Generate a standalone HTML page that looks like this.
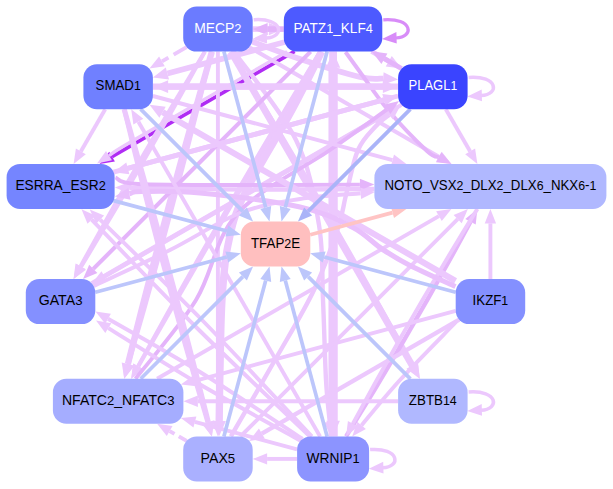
<!DOCTYPE html><html><head><meta charset="utf-8"><style>html,body{margin:0;padding:0;background:#fff}svg{display:block;font-family:"Liberation Sans",sans-serif}</style></head><body><svg width="613" height="489" viewBox="0 0 613 489">
<rect width="613" height="489" fill="#fff"/>
<line x1="294.6" y1="51.3" x2="112.0" y2="156.7" stroke="#b02cf4" stroke-width="3.7"/>
<polygon points="99.6,163.9 109.2,151.8 114.9,161.6" fill="#b02cf4"/>
<line x1="252.7" y1="29.1" x2="268.9" y2="29.1" stroke="#ecc8fd" stroke-width="5.6"/>
<polygon points="283.8,29.1 268.9,35.3 268.9,22.9" fill="#ecc8fd"/>
<line x1="283.8" y1="29.1" x2="267.6" y2="29.1" stroke="#e4b4fa" stroke-width="5.6"/>
<polygon points="252.7,29.1 267.6,22.9 267.6,35.3" fill="#e4b4fa"/>
<line x1="186.6" y1="47.1" x2="162.0" y2="61.4" stroke="#ecc8fd" stroke-width="3.9" stroke-dasharray="15,6"/>
<polygon points="149.4,68.6 159.1,56.4 164.8,66.3" fill="#ecc8fd"/>
<path d="M252.2,41.6 C260.2,44.5 282.0,53.1 300.0,59.0 C318.0,64.9 346.1,73.7 360.0,77.0 C373.9,80.3 379.3,78.3 383.2,78.5" fill="none" stroke="#ecc8fd" stroke-width="5.6"/>
<polygon points="398.1,79.5 382.7,84.7 383.6,72.3" fill="#ecc8fd"/>
<line x1="249.2" y1="47.1" x2="438.9" y2="156.7" stroke="#ecc8fd" stroke-width="3.9"/>
<polygon points="451.4,163.9 436.1,161.6 441.8,151.7" fill="#ecc8fd"/>
<line x1="230.9" y1="51.6" x2="412.2" y2="365.5" stroke="#ecc8fd" stroke-width="6.8"/>
<polygon points="419.8,378.8 406.5,368.8 417.8,362.3" fill="#ecc8fd"/>
<path d="M230.9,51.6 Q329.7,212.7 412.9,366.1" fill="none" stroke="#ecc8fd" stroke-width="3.9"/>
<polygon points="419.8,378.8 407.9,368.8 418.0,363.4" fill="#ecc8fd"/>
<path d="M233.8,51.6 C244.1,66.3 281.8,111.1 296.0,140.0 C310.2,168.9 314.5,198.3 319.0,225.0 C323.5,251.7 321.8,274.2 323.0,300.0 C324.2,325.8 324.9,359.7 326.0,380.0 C327.1,400.3 329.1,414.9 329.8,421.9" fill="none" stroke="#ecc8fd" stroke-width="4.4"/>
<polygon points="331.1,436.4 323.9,422.4 335.6,421.3" fill="#ecc8fd"/>
<line x1="217.9" y1="51.6" x2="217.9" y2="421.9" stroke="#ecc8fd" stroke-width="3.9"/>
<polygon points="217.9,436.4 212.2,421.9 223.6,421.9" fill="#ecc8fd"/>
<path d="M211.9,51.6 Q165.1,214.4 127.9,364.1" fill="none" stroke="#ecc8fd" stroke-width="6.3"/>
<polygon points="124.2,378.8 121.7,362.5 134.1,365.6" fill="#ecc8fd"/>
<path d="M211.9,51.6 Q171.9,216.2 128.3,364.9" fill="none" stroke="#ecc8fd" stroke-width="3.9"/>
<polygon points="124.2,378.8 122.8,363.3 133.8,366.6" fill="#ecc8fd"/>
<path d="M204.9,51.6 Q136.6,163.8 80.5,266.4" fill="none" stroke="#ecc8fd" stroke-width="3.9"/>
<polygon points="73.6,279.1 75.5,263.6 85.5,269.1" fill="#ecc8fd"/>
<path d="M204.9,51.6 Q141.8,166.8 81.1,266.7" fill="none" stroke="#ecc8fd" stroke-width="3.9"/>
<polygon points="73.6,279.1 76.2,263.8 86.0,269.7" fill="#ecc8fd"/>
<line x1="284.5" y1="42.1" x2="167.4" y2="73.5" stroke="#ecc8fd" stroke-width="5.6"/>
<polygon points="152.9,77.4 165.8,67.5 169.0,79.5" fill="#ecc8fd"/>
<path d="M287.1,51.6 C270.9,61.0 217.0,92.1 190.0,107.7 C163.0,123.3 138.5,137.2 125.0,145.2 C111.5,153.2 111.7,153.9 109.0,155.6" fill="none" stroke="#ecc8fd" stroke-width="3.3"/>
<polygon points="97.0,163.4 106.0,151.0 112.0,160.3" fill="#ecc8fd"/>
<line x1="310.6" y1="51.6" x2="93.3" y2="268.9" stroke="#e4b4fa" stroke-width="4.1"/>
<polygon points="83.0,279.1 89.2,264.8 97.4,273.0" fill="#e4b4fa"/>
<line x1="320.1" y1="51.6" x2="138.4" y2="366.3" stroke="#ecc8fd" stroke-width="3.9"/>
<polygon points="131.2,378.8 133.4,363.4 143.3,369.2" fill="#ecc8fd"/>
<path d="M320.1,51.6 Q222.2,213.2 138.1,366.1" fill="none" stroke="#ecc8fd" stroke-width="3.9"/>
<polygon points="131.2,378.8 133.1,363.4 143.1,368.9" fill="#ecc8fd"/>
<path d="M321.7,51.6 C316.7,61.3 304.9,86.1 292.0,110.0 C279.1,133.9 254.7,172.5 244.0,195.0 C233.3,217.5 231.7,227.5 228.0,245.0 C224.3,262.5 223.3,279.2 222.0,300.0 C220.7,320.8 220.5,349.8 220.0,370.0 C219.5,390.2 219.4,412.4 219.2,420.9" fill="none" stroke="#ecc8fd" stroke-width="7.3"/>
<polygon points="219.0,436.4 212.6,420.8 225.9,421.0" fill="#ecc8fd"/>
<line x1="333.1" y1="436.4" x2="333.1" y2="67.7" stroke="#ecc8fd" stroke-width="9.3"/>
<polygon points="333.1,51.6 340.3,67.7 325.9,67.7" fill="#ecc8fd"/>
<line x1="333.1" y1="51.6" x2="333.1" y2="420.8" stroke="#ecc8fd" stroke-width="7.8"/>
<polygon points="333.1,436.4 326.3,420.8 339.9,420.8" fill="#ecc8fd"/>
<path d="M345.5,52.0 C347.9,55.3 352.9,62.3 360.0,72.0 C367.1,81.7 376.8,96.8 388.0,110.0 C399.2,123.2 418.5,143.1 427.0,151.0 C435.5,158.9 436.8,156.2 438.7,157.2" fill="none" stroke="#e4b4fa" stroke-width="3.9"/>
<polygon points="451.5,164.0 436.0,162.3 441.4,152.2" fill="#e4b4fa"/>
<line x1="371.6" y1="51.3" x2="388.7" y2="61.2" stroke="#ecc8fd" stroke-width="5.0"/>
<polygon points="401.6,68.6 385.7,66.4 391.8,56.0" fill="#ecc8fd"/>
<line x1="401.6" y1="68.6" x2="384.4" y2="58.7" stroke="#e4b4fa" stroke-width="5.0"/>
<polygon points="371.6,51.3 387.4,53.5 381.4,63.9" fill="#e4b4fa"/>
<line x1="105.2" y1="109.2" x2="80.8" y2="151.4" stroke="#ecc8fd" stroke-width="3.9"/>
<polygon points="73.6,163.9 75.9,148.5 85.8,154.2" fill="#ecc8fd"/>
<line x1="398.1" y1="86.7" x2="168.1" y2="86.7" stroke="#ecc8fd" stroke-width="6.3"/>
<polygon points="152.9,86.7 168.1,80.3 168.1,93.1" fill="#ecc8fd"/>
<line x1="152.9" y1="86.7" x2="382.9" y2="86.7" stroke="#ecc8fd" stroke-width="6.3"/>
<polygon points="398.1,86.7 382.9,93.1 382.9,80.3" fill="#ecc8fd"/>
<line x1="113.5" y1="172.2" x2="383.8" y2="99.8" stroke="#ecc8fd" stroke-width="4.9"/>
<polygon points="398.1,96.0 385.4,105.6 382.3,94.0" fill="#ecc8fd"/>
<line x1="91.8" y1="283.5" x2="388.8" y2="112.1" stroke="#ecc8fd" stroke-width="4.9"/>
<polygon points="401.6,104.7 391.8,117.3 385.8,106.9" fill="#ecc8fd"/>
<line x1="445.8" y1="109.2" x2="470.2" y2="151.4" stroke="#ecc8fd" stroke-width="3.9"/>
<polygon points="477.4,163.9 465.2,154.2 475.1,148.5" fill="#ecc8fd"/>
<line x1="398.1" y1="96.0" x2="127.8" y2="168.4" stroke="#ecc8fd" stroke-width="4.9"/>
<polygon points="113.5,172.2 126.3,162.6 129.4,174.2" fill="#ecc8fd"/>
<line x1="401.6" y1="104.7" x2="104.4" y2="276.3" stroke="#ecc8fd" stroke-width="3.9"/>
<polygon points="91.8,283.5 101.5,271.3 107.2,281.3" fill="#ecc8fd"/>
<path d="M230.9,436.4 C238.2,423.7 261.1,384.4 275.0,360.0 C288.9,335.6 303.5,312.0 314.0,290.0 C324.5,268.0 332.7,243.8 338.0,228.0 C343.3,212.2 342.7,208.0 346.0,195.0 C349.3,182.0 353.0,161.5 358.0,150.0 C363.0,138.5 370.8,131.9 376.0,126.0 C381.2,120.1 387.1,116.7 389.3,114.9" fill="none" stroke="#ecc8fd" stroke-width="4.4"/>
<polygon points="400.5,105.5 393.0,119.4 385.5,110.4" fill="#ecc8fd"/>
<path d="M135.5,378.8 C145.5,365.7 179.1,327.5 196.0,300.0 C212.9,272.5 214.7,239.0 237.0,214.0 C259.3,189.0 305.0,167.4 330.0,150.0 C355.0,132.6 377.7,116.1 387.2,109.4" fill="none" stroke="#e4b4fa" stroke-width="3.9"/>
<polygon points="399.0,101.0 390.5,114.0 383.9,104.7" fill="#e4b4fa"/>
<line x1="152.9" y1="96.0" x2="392.5" y2="160.2" stroke="#ecc8fd" stroke-width="3.9"/>
<polygon points="406.4,163.9 391.0,165.7 394.0,154.6" fill="#ecc8fd"/>
<path d="M374.4,189.0 C353.7,189.1 290.8,189.7 250.0,189.5 C209.2,189.3 149.5,188.0 129.4,187.7" fill="none" stroke="#ecc8fd" stroke-width="4.4"/>
<polygon points="114.8,187.5 129.5,181.9 129.3,193.6" fill="#ecc8fd"/>
<path d="M115.5,177.5 C119.2,178.6 115.6,182.8 138.0,184.0 C160.4,185.2 213.0,184.9 250.0,185.0 C287.0,185.1 341.6,184.6 359.9,184.6" fill="none" stroke="#e4b4fa" stroke-width="3.9"/>
<polygon points="374.4,184.5 360.0,190.3 359.9,178.8" fill="#e4b4fa"/>
<line x1="490.4" y1="279.1" x2="490.4" y2="223.4" stroke="#ecc8fd" stroke-width="3.9"/>
<polygon points="490.4,208.9 496.1,223.4 484.7,223.4" fill="#ecc8fd"/>
<path d="M346.1,436.4 Q415.2,324.7 470.5,221.8" fill="none" stroke="#e4b4fa" stroke-width="4.4"/>
<polygon points="477.4,208.9 475.7,224.6 465.3,219.0" fill="#e4b4fa"/>
<path d="M477.4,208.9 Q408.3,320.7 352.9,423.7" fill="none" stroke="#ecc8fd" stroke-width="3.9"/>
<polygon points="346.1,436.4 347.9,421.0 358.0,426.4" fill="#ecc8fd"/>
<line x1="240.4" y1="436.5" x2="457.7" y2="219.1" stroke="#ecc8fd" stroke-width="3.9"/>
<polygon points="467.9,208.9 461.7,223.2 453.6,215.1" fill="#ecc8fd"/>
<line x1="157.1" y1="378.8" x2="438.9" y2="216.1" stroke="#ecc8fd" stroke-width="3.9"/>
<polygon points="451.4,208.9 441.8,221.1 436.1,211.2" fill="#ecc8fd"/>
<path d="M93.6,286.0 C106.4,280.0 145.6,262.2 170.0,250.0 C194.4,237.8 218.3,221.5 240.0,213.0 C261.7,204.5 279.9,202.3 300.0,199.0 C320.1,195.7 350.5,194.3 360.6,193.3" fill="none" stroke="#ecc8fd" stroke-width="3.9"/>
<polygon points="375.0,192.0 361.1,199.0 360.1,187.6" fill="#ecc8fd"/>
<path d="M455.5,281.0 C406.7,252.9 211.4,140.4 162.6,112.2" fill="none" stroke="#ecc8fd" stroke-width="6.1"/>
<polygon points="149.5,104.7 165.7,106.8 159.4,117.7" fill="#ecc8fd"/>
<line x1="455.7" y1="310.9" x2="194.9" y2="380.8" stroke="#ecc8fd" stroke-width="3.9"/>
<polygon points="180.9,384.5 193.4,375.2 196.4,386.3" fill="#ecc8fd"/>
<line x1="459.2" y1="319.6" x2="261.8" y2="433.6" stroke="#ecc8fd" stroke-width="4.4"/>
<polygon points="249.2,440.9 258.9,428.5 264.8,438.6" fill="#ecc8fd"/>
<path d="M456.0,322.0 C446.7,331.7 415.7,362.8 400.0,380.0 C384.3,397.2 367.9,417.8 361.5,425.4" fill="none" stroke="#ecc8fd" stroke-width="3.9"/>
<polygon points="352.2,436.4 357.2,421.7 365.9,429.1" fill="#ecc8fd"/>
<path d="M455.5,286.5 C447.9,283.0 422.2,271.8 410.0,265.5 C397.8,259.2 391.7,255.4 382.0,249.0 C372.3,242.6 365.7,234.0 352.0,227.0 C338.3,220.0 325.3,212.7 300.0,207.0 C274.7,201.3 226.3,195.6 200.0,193.0 C173.7,190.4 153.8,191.4 142.0,191.5 C130.2,191.6 131.5,193.4 129.4,193.8" fill="none" stroke="#e9c0fc" stroke-width="5.1"/>
<polygon points="114.8,196.5 128.3,187.9 130.5,199.8" fill="#e9c0fc"/>
<line x1="398.1" y1="401.3" x2="197.9" y2="401.3" stroke="#ecc8fd" stroke-width="3.9"/>
<polygon points="183.4,401.3 197.9,395.6 197.9,407.1" fill="#ecc8fd"/>
<line x1="297.1" y1="458.9" x2="267.1" y2="458.9" stroke="#ecc8fd" stroke-width="3.9"/>
<polygon points="252.7,458.9 267.1,453.2 267.1,464.6" fill="#ecc8fd"/>
<line x1="297.1" y1="449.3" x2="194.9" y2="421.9" stroke="#ecc8fd" stroke-width="3.9"/>
<polygon points="180.9,418.1 196.4,416.4 193.4,427.4" fill="#ecc8fd"/>
<path d="M302.6,439.0 C285.5,427.9 232.4,392.0 200.0,372.0 C167.6,352.0 123.4,327.6 108.0,318.7" fill="none" stroke="#ecc8fd" stroke-width="3.9"/>
<polygon points="95.5,311.5 110.9,313.8 105.2,323.7" fill="#ecc8fd"/>
<path d="M300.7,440.8 C282.9,430.8 226.1,399.8 194.0,381.0 C161.9,362.2 122.6,336.9 108.3,328.1" fill="none" stroke="#ecc8fd" stroke-width="3.9"/>
<polygon points="96.0,320.5 111.3,323.2 105.3,333.0" fill="#ecc8fd"/>
<path d="M309.7,436.4 C290.9,418.4 233.4,364.1 197.0,328.0 C160.6,291.9 109.2,237.7 91.6,219.7" fill="none" stroke="#ecc8fd" stroke-width="3.9"/>
<polygon points="81.5,209.3 95.7,215.7 87.5,223.7" fill="#ecc8fd"/>
<path d="M311.9,436.4 C293.7,417.2 238.3,357.1 203.0,321.0 C167.7,284.9 117.3,236.5 100.1,219.7" fill="none" stroke="#ecc8fd" stroke-width="3.9"/>
<polygon points="89.8,209.5 104.1,215.6 96.1,223.7" fill="#ecc8fd"/>
<line x1="320.1" y1="436.4" x2="138.4" y2="121.7" stroke="#ecc8fd" stroke-width="3.9"/>
<polygon points="131.2,109.2 143.3,118.8 133.4,124.6" fill="#ecc8fd"/>
<line x1="186.6" y1="440.9" x2="169.7" y2="431.1" stroke="#ecc8fd" stroke-width="3.9" stroke-dasharray="9,5"/>
<polygon points="157.1,423.8 172.5,426.1 166.8,436.0" fill="#ecc8fd"/>
<path d="M124.2,109.2 Q170.9,272.0 208.3,422.0" fill="none" stroke="#ecc8fd" stroke-width="5.1"/>
<polygon points="211.9,436.4 202.4,423.5 214.2,420.6" fill="#ecc8fd"/>
<path d="M124.2,109.2 Q163.2,274.1 207.7,422.4" fill="none" stroke="#ecc8fd" stroke-width="4.4"/>
<polygon points="211.9,436.4 202.1,424.1 213.3,420.7" fill="#ecc8fd"/>
<line x1="140.6" y1="109.1" x2="242.9" y2="211.4" stroke="#bcc6fb" stroke-width="3.7"/>
<polygon points="253.1,221.6 238.9,215.4 246.9,207.4" fill="#bcc6fb"/>
<line x1="223.9" y1="51.6" x2="265.7" y2="207.6" stroke="#bcc6fb" stroke-width="3.7"/>
<polygon points="269.5,221.5 260.3,209.0 271.2,206.1" fill="#bcc6fb"/>
<line x1="327.1" y1="51.6" x2="285.3" y2="207.6" stroke="#bcc6fb" stroke-width="3.7"/>
<polygon points="281.5,221.5 279.8,206.1 290.7,209.0" fill="#bcc6fb"/>
<line x1="113.5" y1="200.6" x2="226.8" y2="231.0" stroke="#bcc6fb" stroke-width="3.7"/>
<polygon points="240.8,234.7 225.4,236.4 228.3,225.5" fill="#bcc6fb"/>
<line x1="95.3" y1="292.3" x2="226.8" y2="257.0" stroke="#bcc6fb" stroke-width="3.7"/>
<polygon points="240.8,253.3 228.3,262.5 225.4,251.6" fill="#bcc6fb"/>
<line x1="140.7" y1="378.8" x2="242.9" y2="276.6" stroke="#bcc6fb" stroke-width="3.7"/>
<polygon points="253.1,266.4 246.9,280.6 238.9,272.6" fill="#bcc6fb"/>
<line x1="223.9" y1="436.4" x2="265.7" y2="280.4" stroke="#bcc6fb" stroke-width="3.7"/>
<polygon points="269.5,266.5 271.2,281.9 260.3,279.0" fill="#bcc6fb"/>
<line x1="327.1" y1="436.4" x2="285.3" y2="280.4" stroke="#bcc6fb" stroke-width="3.7"/>
<polygon points="281.5,266.5 290.7,279.0 279.8,281.9" fill="#bcc6fb"/>
<line x1="410.4" y1="378.9" x2="308.1" y2="276.6" stroke="#bcc6fb" stroke-width="3.7"/>
<polygon points="297.9,266.4 312.1,272.6 304.1,280.6" fill="#bcc6fb"/>
<line x1="455.7" y1="292.3" x2="324.2" y2="257.0" stroke="#bcc6fb" stroke-width="3.7"/>
<polygon points="310.2,253.3 325.6,251.6 322.7,262.5" fill="#bcc6fb"/>
<line x1="410.4" y1="109.1" x2="308.1" y2="211.4" stroke="#aab4f8" stroke-width="3.7"/>
<polygon points="297.9,221.6 304.1,207.4 312.1,215.4" fill="#aab4f8"/>
<line x1="310.2" y1="234.7" x2="392.5" y2="212.6" stroke="#ffc4c4" stroke-width="3.7"/>
<polygon points="406.4,208.9 394.0,218.1 391.1,207.2" fill="#ffc4c4"/>
<path d="M253.7,19.8 C283.2,17.6 285.2,37.1 266.2,38.0" fill="none" stroke="#ecc8fd" stroke-width="3.5"/>
<polygon points="252.4,38.9 266.8,31.9 267.1,43.6" fill="#ecc8fd"/>
<path d="M383.3,19.8 C412.8,17.6 414.8,37.1 395.8,38.0" fill="none" stroke="#d88cf8" stroke-width="3.2"/>
<polygon points="382.0,38.9 396.4,31.9 396.7,43.6" fill="#d88cf8"/>
<path d="M468.6,77.4 C498.1,75.2 500.1,94.7 481.1,95.6" fill="none" stroke="#ecc8fd" stroke-width="3.5"/>
<polygon points="467.3,96.5 481.7,89.5 482.0,101.2" fill="#ecc8fd"/>
<path d="M468.6,392.0 C498.1,389.8 500.1,409.3 481.1,410.2" fill="none" stroke="#ecc8fd" stroke-width="3.5"/>
<polygon points="467.3,411.1 481.7,404.1 482.0,415.8" fill="#ecc8fd"/>
<path d="M370.1,449.6 C399.6,447.4 401.6,466.9 382.6,467.8" fill="none" stroke="#ecc8fd" stroke-width="3.5"/>
<polygon points="368.8,468.7 383.2,461.7 383.5,473.4" fill="#ecc8fd"/>
<rect x="183.2" y="6.6" width="69.5" height="45.0" rx="13.5" ry="13.5" fill="#6b7bff"/>
<text transform="translate(217.9,32.7) scale(1,1.07)" x="0" y="0" text-anchor="middle" font-size="13.33" fill="#fff" textLength="47.3" lengthAdjust="spacingAndGlyphs">MECP<tspan font-size="12.4">2</tspan></text>
<rect x="283.8" y="6.6" width="98.5" height="45.0" rx="13.5" ry="13.5" fill="#4d5aff"/>
<text transform="translate(333.1,32.7) scale(1,1.07)" x="0" y="0" text-anchor="middle" font-size="13.33" fill="#fff" textLength="79.4" lengthAdjust="spacingAndGlyphs">PATZ<tspan font-size="12.4">1</tspan>_KLF<tspan font-size="12.4">4</tspan></text>
<rect x="398.1" y="64.2" width="69.5" height="45.0" rx="13.5" ry="13.5" fill="#3a44ff"/>
<text transform="translate(432.8,90.3) scale(1,1.07)" x="0" y="0" text-anchor="middle" font-size="13.33" fill="#fff" textLength="48.7" lengthAdjust="spacingAndGlyphs">PLAGL<tspan font-size="12.4">1</tspan></text>
<rect x="374.4" y="163.9" width="232.0" height="45.0" rx="13.5" ry="13.5" fill="#b0b8ff"/>
<text transform="translate(490.4,190.0) scale(1,1.07)" x="0" y="0" text-anchor="middle" font-size="13.33" fill="#000" textLength="211.9" lengthAdjust="spacingAndGlyphs">NOTO_VSX<tspan font-size="12.4">2</tspan>_DLX<tspan font-size="12.4">2</tspan>_DLX<tspan font-size="12.4">6</tspan>_NKX<tspan font-size="12.4">6</tspan>-<tspan font-size="12.4">1</tspan></text>
<rect x="455.7" y="279.1" width="69.5" height="45.0" rx="13.5" ry="13.5" fill="#8490ff"/>
<text transform="translate(490.4,305.2) scale(1,1.07)" x="0" y="0" text-anchor="middle" font-size="13.33" fill="#000" textLength="35.6" lengthAdjust="spacingAndGlyphs">IKZF<tspan font-size="12.4">1</tspan></text>
<rect x="398.1" y="378.8" width="69.5" height="45.0" rx="13.5" ry="13.5" fill="#b0b8ff"/>
<text transform="translate(432.8,404.9) scale(1,1.07)" x="0" y="0" text-anchor="middle" font-size="13.33" fill="#000" textLength="47.9" lengthAdjust="spacingAndGlyphs">ZBTB<tspan font-size="12.4">14</tspan></text>
<rect x="297.1" y="436.4" width="72.0" height="45.0" rx="13.5" ry="13.5" fill="#8c94ff"/>
<text transform="translate(333.1,462.5) scale(1,1.07)" x="0" y="0" text-anchor="middle" font-size="13.33" fill="#000" textLength="53.0" lengthAdjust="spacingAndGlyphs">WRNIP<tspan font-size="12.4">1</tspan></text>
<rect x="183.2" y="436.4" width="69.5" height="45.0" rx="13.5" ry="13.5" fill="#aab0ff"/>
<text transform="translate(217.9,462.5) scale(1,1.07)" x="0" y="0" text-anchor="middle" font-size="13.33" fill="#000" textLength="34.6" lengthAdjust="spacingAndGlyphs">PAX<tspan font-size="12.4">5</tspan></text>
<rect x="52.9" y="378.8" width="130.5" height="45.0" rx="13.5" ry="13.5" fill="#a5adff"/>
<text transform="translate(118.2,404.9) scale(1,1.07)" x="0" y="0" text-anchor="middle" font-size="13.33" fill="#000" textLength="112.5" lengthAdjust="spacingAndGlyphs">NFATC<tspan font-size="12.4">2</tspan>_NFATC<tspan font-size="12.4">3</tspan></text>
<rect x="25.8" y="279.1" width="69.5" height="45.0" rx="13.5" ry="13.5" fill="#8490ff"/>
<text transform="translate(60.6,305.2) scale(1,1.07)" x="0" y="0" text-anchor="middle" font-size="13.33" fill="#000" textLength="43.7" lengthAdjust="spacingAndGlyphs">GATA<tspan font-size="12.4">3</tspan></text>
<rect x="6.6" y="163.9" width="108.0" height="45.0" rx="13.5" ry="13.5" fill="#7585ff"/>
<text transform="translate(60.6,190.0) scale(1,1.07)" x="0" y="0" text-anchor="middle" font-size="13.33" fill="#000" textLength="90.3" lengthAdjust="spacingAndGlyphs">ESRRA_ESR<tspan font-size="12.4">2</tspan></text>
<rect x="83.4" y="64.2" width="69.5" height="45.0" rx="13.5" ry="13.5" fill="#7080ff"/>
<text transform="translate(118.2,90.3) scale(1,1.07)" x="0" y="0" text-anchor="middle" font-size="13.33" fill="#000" textLength="45.2" lengthAdjust="spacingAndGlyphs">SMAD<tspan font-size="12.4">1</tspan></text>
<rect x="240.8" y="221.5" width="69.5" height="45.0" rx="13.5" ry="13.5" fill="#ffbfbf"/>
<text transform="translate(275.5,247.6) scale(1,1.07)" x="0" y="0" text-anchor="middle" font-size="13.33" fill="#000" textLength="49.1" lengthAdjust="spacingAndGlyphs">TFAP<tspan font-size="12.4">2</tspan>E</text>
</svg></body></html>
